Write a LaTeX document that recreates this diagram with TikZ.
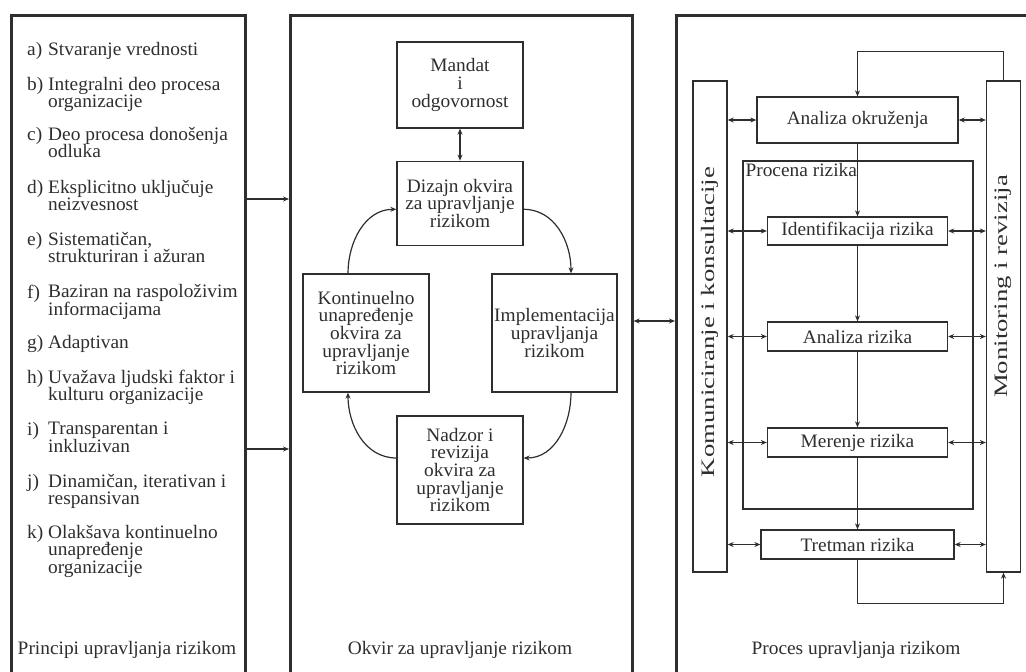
\documentclass[tikz,border=0pt]{standalone}
\usepackage{fontspec}
\setmainfont{Liberation Serif}[FakeStretch=1.02]
\usepackage{graphicx}
\usepackage{tikz}
\usetikzlibrary{
    positioning,
    calc,
    arrows.meta
}
\definecolor{ink}{HTML}{2E2E2E}
\tikzset{
  panel/.style = {
      draw=ink,
      line width=2.6pt,
      rectangle,
      anchor=north west,
      inner sep=0pt
  },
  box/.style = {
      draw=ink,
      line width=1.3pt,
      rectangle,
      align=center,
      inner sep=1pt
  },
  bar/.style = {
      box,
      minimum width=34pt,
      minimum height=491pt,
      inner sep=0pt
  },
  item/.style = {
      anchor=north west,
      align=left,
      inner sep=0pt
  },
  letter/.style = {
      anchor=base west,
      inner sep=0pt
  },
  title/.style = {
      anchor=base,
      inner sep=0pt
  },
  arr/.style = {
      draw=ink,
      line width=1.2pt,
      -{Stealth[length=6pt,width=5pt]}
  },
  darr/.style = {
      draw=ink,
      line width=1.2pt,
      {Stealth[length=6pt,width=5pt]}-{Stealth[length=6pt,width=5pt]}
  }
}
\newcommand{\bartext}[2]{\rotatebox{90}{\hspace*{#1}\scalebox{1.38}[1]{#2}}}

\begin{document}
\begin{tikzpicture}[x=1pt, y=1pt, text=ink, font=\fontsize{19}{17.6}\selectfont]
    \useasboundingbox (0,0) rectangle (1026,-672);
    % Panels
    \node[panel, minimum width=234pt, minimum height=700pt] (princ) at (10,-14) {};
    \node[panel, minimum width=342pt, minimum height=700pt] (okvir) at (289,-14) {};
    \node[panel, minimum width=400pt, minimum height=700pt] (proces) at (675,-14) {};
    \node[title] (tprinc) at (127,-654) {Principi upravljanja rizikom};
    \node[title] (tokvir) at (460,-654) {Okvir za upravljanje rizikom};
    \node[title] (tproces) at (856,-654) {Proces upravljanja rizikom};
    % Principles
    \foreach \l/\y/\t in {
        a/55/{Stvaranje vrednosti},
        b/90/{Integralni deo procesa\\organizacije},
        c/140/{Deo procesa donošenja\\odluka},
        d/193/{Eksplicitno uključuje\\neizvesnost},
        e/245/{Sistematičan,\\strukturiran i ažuran},
        f/298/{Baziran na raspoloživim\\informacijama},
        g/348/{Adaptivan},
        h/383/{Uvažava ljudski faktor i\\kulturu organizacije},
        i/435/{Transparentan i\\inkluzivan},
        j/487/{Dinamičan, iterativan i\\respansivan},
        k/538/{Olakšava kontinuelno\\unapređenje\\organizacije}} {
        \node[letter] (l\l) at (27,-\y) {\l)};
        \node[item] (p\l) at (l\l.north -| 48,0) {\t};
    }
    % Framework
    \node[box, minimum width=126pt, minimum height=86pt] (mandat) at (460,-85) {Mandat\\i\\odgovornost};
    \node[box, minimum width=126pt, minimum height=84pt, below=32pt of mandat] (dizajn) {Dizajn okvira\\za upravljanje\\rizikom};
    \node[box, minimum width=126pt, minimum height=118pt] (kont) at (366,-333) {Kontinuelno\\unapređenje\\okvira za\\upravljanje\\rizikom};
    \node[box, minimum width=125pt, minimum height=118pt] (impl) at (554.5,-333) {Implementacija\\upravljanja\\rizikom};
    \node[box, minimum width=126pt, minimum height=108pt] (nadzor) at (460,-470) {Nadzor i\\revizija\\okvira za\\upravljanje\\rizikom};
    \draw[darr] (mandat) -- (dizajn);
    \draw[arr] ([xshift=-18pt]kont.north) to[out=90, in=180] ([yshift=-6pt]dizajn.west);
    \draw[arr] ([yshift=-6pt]dizajn.east) to[out=0, in=90] ([xshift=16.5pt]impl.north);
    \draw[arr] ([xshift=16.5pt]impl.south) to[out=-90, in=0] ([yshift=12pt]nadzor.east);
    \draw[arr] ([yshift=12pt]nadzor.west) to[out=180, in=-90] ([xshift=-18pt]kont.south);
    % Process
    \node[bar] (kom) at (710,-326.5) {\bartext{9pt}{Komuniciranje i konsultacije}};
    \node[bar] (mon) at (1003.5,-326.5) {\bartext{80pt}{Monitoring i revizija}};
    \node[box, minimum width=201pt, minimum height=46pt] (aokr) at (857.5,-120) {Analiza okruženja};
    \node[box, minimum width=230pt, minimum height=348pt] (procena) at (858,-335) {};
    \node[anchor=north west, inner sep=3pt] (proclbl) at (procena.north west) {Procena rizika};
    \node[box, minimum width=180pt, minimum height=28pt] (ident) at (857.5,-231) {Identifikacija rizika};
    \node[box, minimum width=180pt, minimum height=29pt] (arz) at (857.5,-336.5) {Analiza rizika};
    \node[box, minimum width=180pt, minimum height=29pt] (mer) at (857.5,-442.5) {Merenje rizika};
    \node[box, minimum width=193pt, minimum height=29pt] (tret) at (857.5,-544.5) {Tretman rizika};
    % Edges
    \draw[arr] (aokr) -- (ident);
    \draw[arr] (ident) -- (arz);
    \draw[arr] (arz) -- (mer);
    \draw[arr] (mer) -- (tret);
    \draw[arr] (mon.north) -- ++(0,29) -| (aokr.north);
    \draw[arr] (tret.south) -- ++(0,-44) -| (mon.south);
    \foreach \b in {aokr,ident,arz,mer,tret} {
        \draw[darr] (kom.east |- \b.west) -- (\b.west);
        \draw[darr] (\b.east) -- (mon.west |- \b.east);
    }
    % Between panels
    \draw[arr] (princ.east |- 0,-199) -- (okvir.west |- 0,-199);
    \draw[arr] (princ.east |- 0,-449) -- (okvir.west |- 0,-449);
    \draw[darr] (okvir.east |- 0,-321) -- (proces.west |- 0,-321);
\end{tikzpicture}
\end{document}
